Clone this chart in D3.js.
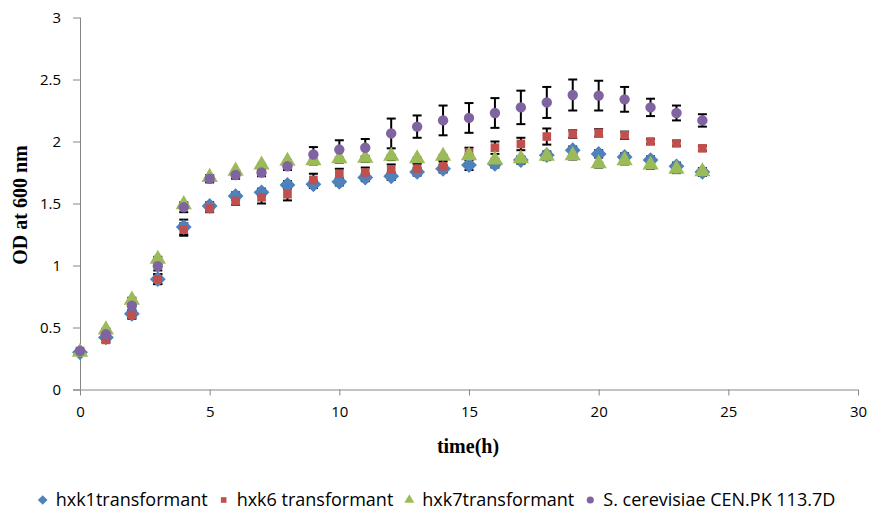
<!DOCTYPE html>
<html>
<head>
<meta charset="utf-8">
<script src="https://cdn.jsdelivr.net/npm/d3@7"></script>
<style>
    body { margin: 0; background: #fff; }
    .tick text { font-family: "Open Sans", sans-serif; font-size: 15px; fill: #000; }
    .AxisTitle { font-family: "Liberation Serif", "Times New Roman", serif; font-size: 20px; font-weight: bold; }
    .legendText { font-family: "Open Sans", sans-serif; font-size: 18px; }
</style>
</head>
<body>
<div id="chart"></div>
<script>
// time points (h)
const times = [0, 1, 2, 3, 4, 5, 6, 7, 8, 9, 10, 11, 12, 13, 14, 15, 16, 17, 18, 19, 20, 21, 22, 23, 24];

const seriesNames = ["hxk1transformant", "hxk6 transformant", "hxk7transformant", "S. cerevisiae CEN.PK 113.7D"];

const hxk1 = [0.30, 0.42, 0.61, 0.89, 1.31, 1.48, 1.56, 1.59, 1.65, 1.655, 1.675, 1.71, 1.72, 1.755, 1.78, 1.81, 1.82, 1.85, 1.89, 1.93, 1.90, 1.875, 1.85, 1.80, 1.755];
const hxk6 = [0.31, 0.40, 0.60, 0.89, 1.29, 1.46, 1.52, 1.55, 1.575, 1.69, 1.74, 1.75, 1.775, 1.78, 1.80, 1.91, 1.95, 1.98, 2.04, 2.06, 2.07, 2.05, 2.00, 1.985, 1.945];
const hxk7 = [0.29, 0.47, 0.71, 1.04, 1.48, 1.70, 1.75, 1.80, 1.83, 1.835, 1.85, 1.855, 1.87, 1.85, 1.87, 1.875, 1.84, 1.85, 1.87, 1.875, 1.81, 1.835, 1.80, 1.765, 1.745];
const cerevisiae = [0.31, 0.445, 0.675, 0.995, 1.47, 1.70, 1.73, 1.75, 1.80, 1.895, 1.935, 1.95, 2.065, 2.12, 2.17, 2.19, 2.23, 2.275, 2.315, 2.375, 2.37, 2.34, 2.275, 2.23, 2.17];

// standard deviations (error bars)
const hxk1Sd = [0.01, 0.02, 0.03, 0.04, 0.06, 0.03, 0.03, 0.03, 0.03, 0.03, 0.03, 0.03, 0.03, 0.03, 0.03, 0.04, 0.03, 0.03, 0.03, 0.03, 0.03, 0.03, 0.03, 0.03, 0.03];
const hxk6Sd = [0.01, 0.02, 0.03, 0.04, 0.05, 0.03, 0.03, 0.05, 0.05, 0.05, 0.04, 0.04, 0.04, 0.04, 0.04, 0.04, 0.05, 0.05, 0.065, 0.03, 0.03, 0.03, 0.02, 0.02, 0.02];
const hxk7Sd = [0.01, 0.02, 0.03, 0.03, 0.02, 0.02, 0.02, 0.02, 0.02, 0.02, 0.02, 0.02, 0.02, 0.02, 0.02, 0.02, 0.02, 0.02, 0.02, 0.02, 0.02, 0.02, 0.02, 0.02, 0.02];
const cerevisiaeSd = [0.01, 0.02, 0.04, 0.035, 0.04, 0.03, 0.03, 0.03, 0.03, 0.06, 0.075, 0.07, 0.12, 0.09, 0.12, 0.12, 0.12, 0.135, 0.125, 0.125, 0.12, 0.10, 0.07, 0.06, 0.05];

const xTicks = [0, 5, 10, 15, 20, 25, 30];
const yTicks = [0, 0.5, 1, 1.5, 2, 2.5, 3];

const colors = ["#4F81BD", "#C0504D", "#9BBB59", "#8064A2"];
const symbols = [d3.symbolDiamond2, d3.symbolSquare2, d3.symbolTriangle2, d3.symbolCircle];

function init() {
    const w = 871;
    const h = 511;

    const svg = d3.select("#chart")
        .append("svg")
        .attr("width", w)
        .attr("height", h);

    const xScale = d3.scaleLinear().domain([0, 30]).range([80, 858]);
    const yScale = d3.scaleLinear().domain([0, 3]).range([389.5, 17.5]);

    const allValues = [hxk1, hxk6, hxk7, cerevisiae];
    const allSd = [hxk1Sd, hxk6Sd, hxk7Sd, cerevisiaeSd];

    const xAxis = d3.axisBottom(xScale).tickValues(xTicks).tickSize(6).tickFormat(d3.format("d"));
    const yAxis = d3.axisLeft(yScale).tickValues(yTicks).tickSize(7).tickFormat(function (d) { return d; });

    const gx = svg.append("g")
        .attr("transform", "translate(0, " + yScale(0) + ")")
        .call(xAxis);
    gx.selectAll("text").attr("dy", "1.05em").attr("y", 12);

    const gy = svg.append("g")
        .attr("transform", "translate(" + xScale(0) + ", 0)")
        .call(yAxis);
    gy.selectAll("text").attr("x", -19);

    svg.selectAll(".domain, .tick line").attr("stroke", "#868686");
    gx.select(".domain").attr("d", "M" + (xScale(0) - 7) + ",0.5H" + xScale(30));
    gy.select(".domain").attr("d", "M0.5," + yScale(3) + "V" + yScale(0));

    // error bars
    allValues.forEach(function (vals, s) {
        const g = svg.append("g").attr("stroke", "#000").attr("stroke-width", 2);
        times.forEach(function (t, i) {
            const sd = allSd[s][i];
            const x = xScale(t);
            const y1 = yScale(vals[i] + sd);
            const y2 = yScale(vals[i] - sd);
            g.append("line").attr("x1", x).attr("x2", x).attr("y1", y1).attr("y2", y2);
            g.append("line").attr("x1", x - 4.5).attr("x2", x + 4.5).attr("y1", y1).attr("y2", y1);
            g.append("line").attr("x1", x - 4.5).attr("x2", x + 4.5).attr("y1", y2).attr("y2", y2);
        });
    });

    const sizes = [160, 95, 190, 85];
    allValues.forEach(function (vals, s) {
        const sym = d3.symbol().type(symbols[s]).size(sizes[s]);
        svg.append("g").selectAll("path")
            .data(vals)
            .enter()
            .append("path")
            .attr("d", sym)
            .attr("transform", function (d, i) {
                const dy = s === 2 ? -1.5 : 0;
                return "translate(" + xScale(times[i]) + "," + (yScale(d) + dy) + ")";
            })
            .attr("fill", colors[s]);
    });

    // X axis label
    svg.append("text")
        .attr("class", "AxisTitle")
        .attr("text-anchor", "middle")
        .attr("x", 468)
        .attr("y", 453)
        .text("time(h)");

    // Y axis label
    svg.append("text")
        .attr("class", "AxisTitle")
        .attr("text-anchor", "middle")
        .attr("transform", "translate(27, 205) rotate(-90)")
        .text("OD at 600 nm");

    // legend
    const legend = svg.append("g");
    let lx = 42.7;
    const legendSizes = [60, 40, 70, 40];
    seriesNames.forEach(function (name, s) {
        legend.append("path")
            .attr("d", d3.symbol().type(symbols[s]).size(legendSizes[s]))
            .attr("transform", "translate(" + lx + ", 500)")
            .attr("fill", colors[s]);
        const txt = legend.append("text")
            .attr("class", "legendText")
            .attr("x", lx + 13)
            .attr("y", 506)
            .text(name);
        lx = lx + 13 + txt.node().getComputedTextLength() + 16;
    });
}

window.onload = init;
</script>
</body>
</html>
